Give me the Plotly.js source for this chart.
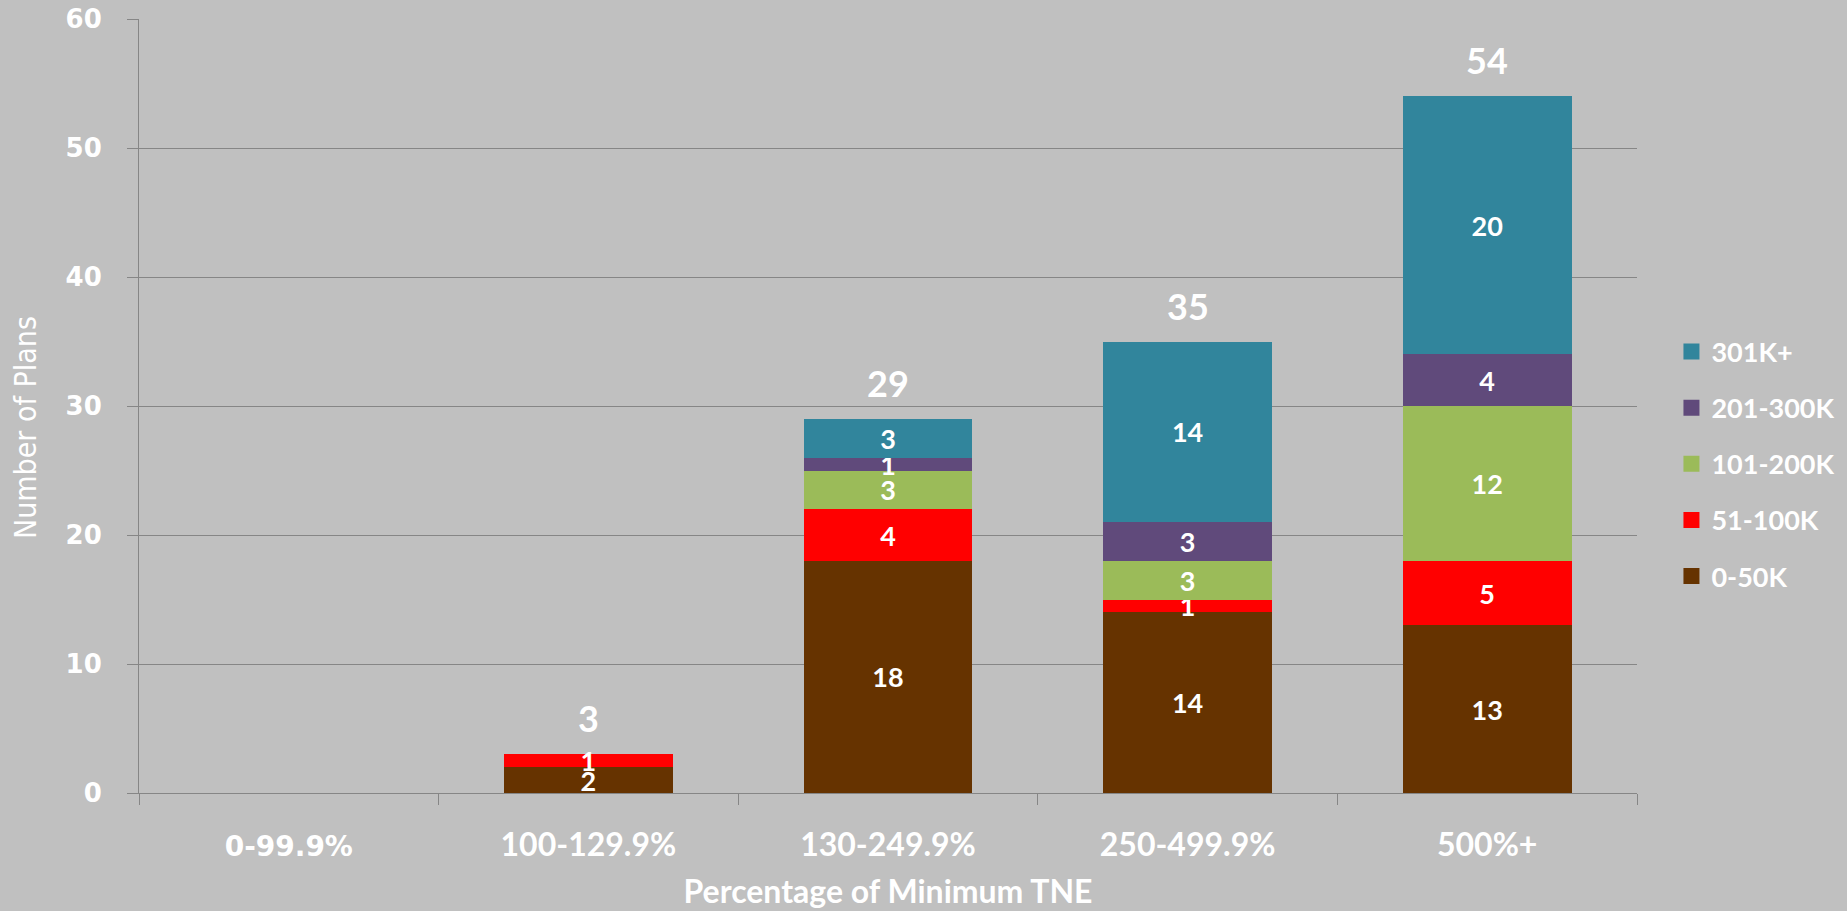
<!DOCTYPE html>
<html>
<head>
<meta charset="utf-8">
<script src="https://cdn.plot.ly/plotly-3.0.1.min.js"></script>
<style>
  html, body { margin: 0; padding: 0; background: #C0C0C0; }
  #chart { width: 1847px; height: 911px; }
</style>
</head>
<body>
<div id="chart"></div>
<script>
// ---- Data ----
const categories = ["0-99.9%", "100-129.9%", "130-249.9%", "250-499.9%", "500%+"];
const seriesNames = ["0-50K", "51-100K", "101-200K", "201-300K", "301K+"];
const s0_50K     = [0, 2, 18, 14, 13];
const s51_100K   = [0, 1, 4, 1, 5];
const s101_200K  = [0, 0, 3, 3, 12];
const s201_300K  = [0, 0, 1, 3, 4];
const s301Kplus  = [0, 0, 3, 14, 20];
const totals     = [0, 3, 29, 35, 54];
const yTicks     = [0, 10, 20, 30, 40, 50, 60];

// ---- Styles ----
const colors = ["#663300", "#FF0000", "#9BBB59", "#604A7B", "#31859C"];
const seriesValues = [s0_50K, s51_100K, s101_200K, s201_300K, s301Kplus];
const calibriLike = "Lato, 'Open Sans', sans-serif";

const barTraces = seriesValues.map((vals, i) => ({
  type: "bar",
  name: seriesNames[i],
  legendgroup: "g" + i,
  showlegend: false,
  x: categories,
  y: vals,
  text: vals.map(v => v > 0 ? String(v) : ""),
  textposition: "inside",
  insidetextanchor: "middle",
  constraintext: "none",
  textangle: 0,
  textfont: { family: calibriLike, size: 27, color: "#FFFFFF", weight: "bold" },
  marker: { color: colors[i] },
  hoverinfo: "name+y"
}));

// Legend entries (top to bottom: 301K+ ... 0-50K), square swatches
const legendTraces = seriesNames.map((n, i) => i).reverse().map(i => ({
  type: "scatter",
  mode: "markers",
  name: seriesNames[i],
  legendgroup: "g" + i,
  showlegend: true,
  x: [categories[0]],
  y: [null],
  marker: { symbol: "square", size: 18, color: colors[i] },
  hoverinfo: "skip"
}));

const annotations = categories.map((c, i) => totals[i] > 0 ? ({
  x: c,
  y: totals[i],
  xref: "x",
  yref: "y",
  text: String(totals[i]),
  showarrow: false,
  yanchor: "bottom",
  yshift: 12,
  font: { family: calibriLike, size: 36, color: "#FFFFFF", weight: "bold" }
}) : null).filter(a => a);

annotations.push({
  xref: "paper",
  yref: "paper",
  x: -0.0754,
  y: 0.4716,
  xanchor: "center",
  yanchor: "middle",
  textangle: -90,
  showarrow: false,
  text: "Number of Plans",
  font: { family: "'Liberation Sans Narrow', 'DejaVu Sans Condensed', sans-serif", size: 30, color: "#FFFFFF" }
});

const tickText = categories.map((c, i) => i === 0
  ? "<span style=\"font-family:'DejaVu Sans';font-size:28px\">" + c + "</span>"
  : c);

const layout = {
  width: 1847,
  height: 911,
  paper_bgcolor: "#C0C0C0",
  plot_bgcolor: "#C0C0C0",
  margin: { l: 139, r: 210, t: 19, b: 118, autoexpand: false },
  barmode: "stack",
  bargap: 0.436,
  showlegend: true,
  legend: {
    x: 1.023,
    xanchor: "left",
    y: 0.425,
    yanchor: "middle",
    traceorder: "grouped",
    tracegroupgap: 18,
    bgcolor: "rgba(0,0,0,0)",
    font: { family: calibriLike, size: 27, color: "#FFFFFF", weight: "bold" }
  },
  xaxis: {
    type: "category",
    tickmode: "array",
    tickvals: categories,
    ticktext: tickText,
    tickson: "boundaries",
    ticks: "outside",
    ticklen: 11,
    tickcolor: "#868686",
    tickwidth: 1,
    showline: true,
    linecolor: "#868686",
    linewidth: 1,
    showgrid: false,
    ticklabelstandoff: 24,
    tickfont: { family: calibriLike, size: 32, color: "#FFFFFF", weight: "bold" },
    title: {
      text: "Percentage of Minimum TNE",
      font: { family: calibriLike, size: 32, color: "#FFFFFF", weight: "bold" },
      standoff: 18
    }
  },
  yaxis: {
    range: [0, 60],
    tickmode: "array",
    tickvals: yTicks,
    ticktext: yTicks.map(String),
    ticks: "outside",
    ticklen: 11,
    tickcolor: "#868686",
    showline: true,
    linecolor: "#868686",
    linewidth: 1,
    showgrid: true,
    gridcolor: "#868686",
    gridwidth: 1,
    zeroline: false,
    ticklabelstandoff: 20,
    tickfont: { family: "'DejaVu Sans', Verdana, sans-serif", size: 26, color: "#FFFFFF", weight: "bold" }
  },
  annotations: annotations
};

Plotly.newPlot("chart", barTraces.concat(legendTraces), layout, { displayModeBar: false, responsive: false });
</script>
</body>
</html>
